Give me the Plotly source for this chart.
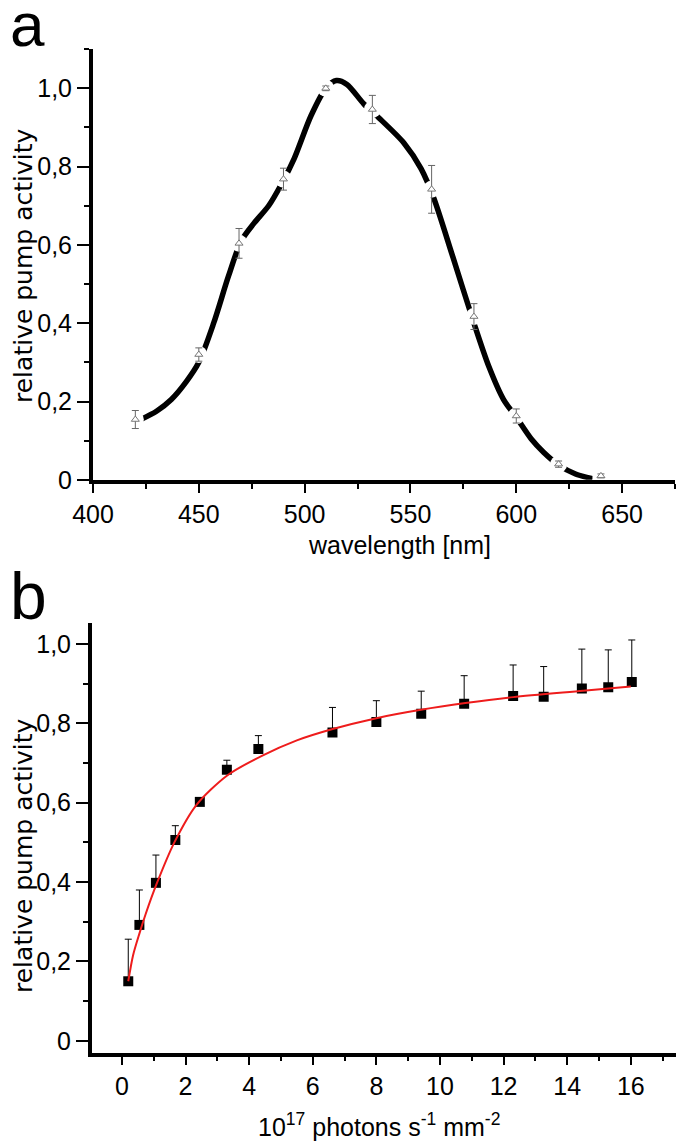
import plotly.graph_objects as go

# ---------------- Panel a data ----------------
wl = [420, 450, 469, 490, 510, 532, 560, 580, 600, 620, 640]
act_a = [0.154, 0.320, 0.604, 0.768, 1.000, 0.946, 0.742, 0.417, 0.163, 0.040, 0.010]
err_a = [0.023, 0.017, 0.038, 0.028, 0.006, 0.036, 0.061, 0.033, 0.018, 0.008, 0.005]

# smooth curve
curve_wl = [423, 430, 437, 444, 450, 457, 464, 470, 476, 483, 489, 495, 503, 510, 515,
            520, 528, 535, 547, 555, 561, 570, 580, 587, 594, 600, 607, 613, 620, 628, 636]
curve_act = [0.155, 0.175, 0.205, 0.25, 0.30, 0.40, 0.52, 0.61, 0.655, 0.70, 0.755, 0.82,
             0.93, 1.0, 1.02, 1.01, 0.96, 0.925, 0.86, 0.795, 0.72, 0.57, 0.40, 0.29,
             0.205, 0.16, 0.105, 0.07, 0.038, 0.015, 0.003]

# ---------------- Panel b data ----------------
photons = [0.2, 0.55, 1.07, 1.68, 2.45, 3.3, 4.29, 6.62, 8.0, 9.41, 10.76, 12.3, 13.26,
           14.46, 15.29, 16.03]
act_b = [0.150, 0.292, 0.398, 0.506, 0.602, 0.683, 0.735, 0.777, 0.803, 0.824, 0.849,
         0.869, 0.867, 0.888, 0.891, 0.904]
err_b = [0.106, 0.088, 0.070, 0.036, 0.004, 0.024, 0.034, 0.063, 0.054, 0.057, 0.071,
         0.078, 0.076, 0.099, 0.094, 0.106]

fit_x = [0.2, 0.35, 0.55, 0.75, 1.1, 1.65, 2.34, 3.3, 4.4, 5.5, 6.6, 8.0, 9.4, 10.8,
         12.3, 14.5, 16.0]
fit_y = [0.15, 0.215, 0.27, 0.32, 0.397, 0.50, 0.594, 0.668, 0.718, 0.757, 0.785, 0.813,
         0.834, 0.851, 0.866, 0.882, 0.893]

y_tickvals = [0, 0.2, 0.4, 0.6, 0.8, 1.0]
y_ticktext = ["0", "0,2", "0,4", "0,6", "0,8", "1,0"]
xa_tickvals = [400, 450, 500, 550, 600, 650]
xb_tickvals = [0, 2, 4, 6, 8, 10, 12, 14, 16]

W, H = 685, 1141
OFF = 8  # page body margin
SANS = "Liberation Sans, Arial, sans-serif"
WIDE = "DejaVu Sans, Liberation Sans, Arial, sans-serif"


def px_x(p):
    return (p - OFF) / W


def px_y(p):
    return 1 - (p - OFF) / H


fig = go.Figure()

# panel a
fig.add_trace(go.Scatter(x=curve_wl, y=curve_act, mode="lines",
                         line=dict(color="black", width=5.5, shape="spline", smoothing=0.8),
                         xaxis="x", yaxis="y", hoverinfo="skip"))
fig.add_trace(go.Scatter(x=wl, y=act_a, mode="markers",
                         marker=dict(symbol="circle", size=17, color="white"),
                         xaxis="x", yaxis="y", hoverinfo="skip"))
fig.add_trace(go.Scatter(x=wl, y=act_a, mode="markers",
                         marker=dict(symbol="triangle-up", size=7, color="white",
                                     line=dict(color="#777777", width=1)),
                         error_y=dict(type="data", array=err_a, visible=True,
                                      color="#666666", thickness=1, width=3.5),
                         xaxis="x", yaxis="y"))

# panel b
fig.add_trace(go.Scatter(x=photons, y=act_b, mode="markers",
                         marker=dict(symbol="square", size=10, color="black"),
                         error_y=dict(type="data", symmetric=False, array=err_b,
                                      arrayminus=[0] * len(err_b), visible=True,
                                      color="black", thickness=1, width=3.5),
                         xaxis="x2", yaxis="y2"))
fig.add_trace(go.Scatter(x=fit_x, y=fit_y, mode="lines",
                         line=dict(color="#ee1c1c", width=2, shape="spline", smoothing=0.8),
                         xaxis="x2", yaxis="y2", hoverinfo="skip"))

tickfont = dict(family=SANS, size=25, color="black")
common = dict(showline=True, linecolor="black", showgrid=False, zeroline=False,
              ticks="outside", tickcolor="black", tickwidth=2, tickfont=tickfont,
              automargin=False)

fig.update_layout(
    width=W, height=H,
    margin=dict(l=0, r=0, t=0, b=0, autoexpand=False),
    paper_bgcolor="white", plot_bgcolor="white",
    showlegend=False,
    xaxis=dict(domain=[px_x(93), px_x(675)], range=[400, 675], anchor="y",
               tickmode="array", tickvals=xa_tickvals, ticklen=9, linewidth=3.5,
               minor=dict(tickmode="linear", tick0=400, dtick=25, ticks="outside",
                          ticklen=5, tickwidth=2, tickcolor="black"),
               **common),
    yaxis=dict(domain=[px_y(479.8), px_y(49.2)], range=[0, 1.1], anchor="x",
               tickmode="array", tickvals=y_tickvals, ticktext=y_ticktext, ticklen=12,
               linewidth=4,
               minor=dict(tickmode="linear", tick0=0, dtick=0.1, ticks="outside",
                          ticklen=5, tickwidth=2, tickcolor="black"),
               **common),
    xaxis2=dict(domain=[px_x(92), px_x(676)], range=[-0.94, 17.42], anchor="y2",
                tickmode="array", tickvals=xb_tickvals, ticklen=9, linewidth=3.5,
                minor=dict(tickmode="linear", tick0=0, dtick=1, ticks="outside",
                           ticklen=5, tickwidth=2, tickcolor="black"),
                **common),
    yaxis2=dict(domain=[px_y(1052.7), px_y(623.3)], range=[-0.03, 1.052], anchor="x2",
                tickmode="array", tickvals=y_tickvals, ticktext=y_ticktext, ticklen=12,
                linewidth=4,
                minor=dict(tickmode="linear", tick0=0, dtick=0.1, ticks="outside",
                           ticklen=5, tickwidth=2, tickcolor="black"),
                **common),
)

ann_font = dict(family=SANS, size=25, color="black")
annotations = [
    dict(text="a", x=px_x(8), y=px_y(24), xanchor="left", yanchor="middle",
         font=dict(family=SANS, size=62, color="black")),
    dict(text="b", x=px_x(8), y=px_y(596), xanchor="left", yanchor="middle",
         font=dict(family=SANS, size=66, color="black")),
    dict(text="relative pump activity", x=px_x(23), y=px_y(266), textangle=-90,
         xanchor="center", yanchor="middle", font=dict(family=WIDE, size=25, color="black")),
    dict(text="relative pump activity", x=px_x(23), y=px_y(856), textangle=-90,
         xanchor="center", yanchor="middle", font=dict(family=WIDE, size=25, color="black")),
    dict(text="wavelength [nm]", x=px_x(400), y=px_y(545), xanchor="center",
         yanchor="middle", font=ann_font),
    dict(text="10<sup>17</sup> photons s<sup>-1</sup> mm<sup>-2</sup>", x=px_x(379),
         y=px_y(1125), xanchor="center", yanchor="middle", font=ann_font),
]
for a in annotations:
    a.update(xref="paper", yref="paper", showarrow=False)
fig.update_layout(annotations=annotations)

fig.write_html("out.html")
